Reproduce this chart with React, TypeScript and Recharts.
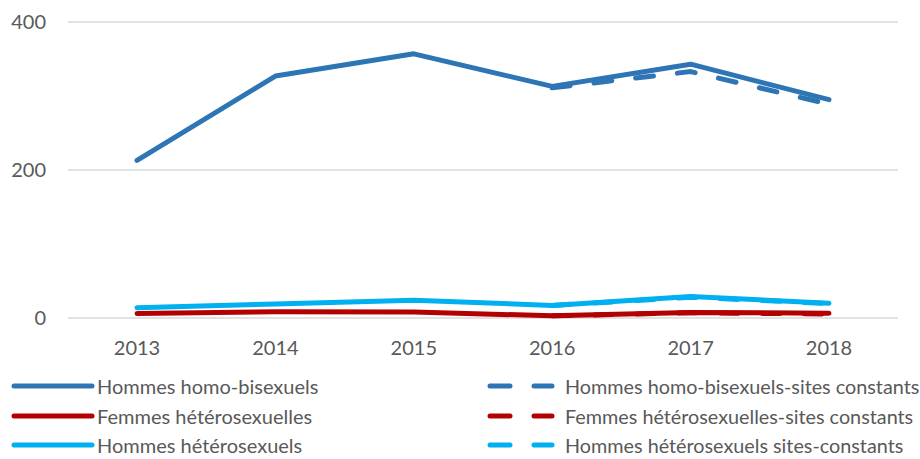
import React from 'react';
import { LineChart, Line, XAxis, YAxis, CartesianGrid } from 'recharts';

// --- Data ---
const years = ['2013', '2014', '2015', '2016', '2017', '2018'];
const hommesHomoBi = [213, 327, 357, 313, 343, 295];
const hommesHomoBiSites = [null, null, null, 311, 333, 289];
const femmesHetero = [6, 8.5, 8, 3, 7.5, 6.5];
const femmesHeteroSites = [null, null, null, 3, 7, 5.5];
const hommesHetero = [14, 19, 24, 17, 29, 20];
const hommesHeteroSites = [null, null, null, 17, 28, 19.5];
const yTicks = [0, 200, 400];

const BLUE = '#2E75B6';
const RED = '#B30000';
const CYAN = '#00B0F0';
const TEXT = '#595959';
const FONT = 'Lato, "Open Sans", sans-serif';
const DASH = '18 24';

const data = years.map((year, i) => ({
  year,
  homoBi: hommesHomoBi[i],
  homoBiSites: hommesHomoBiSites[i],
  femmes: femmesHetero[i],
  femmesSites: femmesHeteroSites[i],
  hommes: hommesHetero[i],
  hommesSites: hommesHeteroSites[i],
}));

const legendLeft = [
  { label: 'Hommes homo-bisexuels', color: BLUE },
  { label: 'Femmes hétérosexuelles', color: RED },
  { label: 'Hommes hétérosexuels', color: CYAN },
];
const legendRight = [
  { label: 'Hommes homo-bisexuels-sites constants', color: BLUE },
  { label: 'Femmes hétérosexuelles-sites constants', color: RED },
  { label: 'Hommes hétérosexuels sites-constants', color: CYAN },
];

// legend rows, a bit tighter than the original so the last row stays readable
function LegendBlock() {
  const rowTop = [376, 406, 435];
  const textStyle = { fontFamily: FONT, color: TEXT, whiteSpace: 'nowrap' as const, lineHeight: '20px' };
  return (
    <>
      {legendLeft.map((item, i) => (
        <div key={item.label} style={{ position: 'absolute', left: 10, top: rowTop[i], height: 20, display: 'flex', alignItems: 'center' }}>
          <svg width={86} height={10}>
            <line x1={4} y1={5} x2={82} y2={5} stroke={item.color} strokeWidth={5} strokeLinecap="round" />
          </svg>
          <span style={{ ...textStyle, fontSize: 20, marginLeft: 1 }}>{item.label}</span>
        </div>
      ))}
      {legendRight.map((item, i) => (
        <div key={item.label} style={{ position: 'absolute', left: 484, top: rowTop[i], height: 20, display: 'flex', alignItems: 'center' }}>
          <svg width={74} height={10}>
            <line x1={6} y1={5} x2={26} y2={5} stroke={item.color} strokeWidth={5} strokeLinecap="round" />
            <line x1={50} y1={5} x2={68} y2={5} stroke={item.color} strokeWidth={5} strokeLinecap="round" />
          </svg>
          <span style={{ ...textStyle, fontSize: 19.8, marginLeft: 7 }}>{item.label}</span>
        </div>
      ))}
    </>
  );
}

export default function App() {
  return (
    <div style={{ position: 'absolute', left: 0, top: 0, width: 920, height: 459, overflow: 'hidden', background: '#fff' }}>
      <LineChart width={920} height={370} data={data} margin={{ top: 22, right: 22, bottom: 12, left: 0 }}>
        <CartesianGrid vertical={false} stroke="#d9d9d9" strokeWidth={1.5} />
        <XAxis
          dataKey="year"
          axisLine={false}
          tickLine={false}
          tickSize={0}
          tickMargin={23}
          height={40}
          padding={{ left: 69, right: 69 }}
          tick={{ fontSize: 20, fill: TEXT, fontFamily: FONT }}
        />
        <YAxis
          domain={[0, 400]}
          ticks={yTicks}
          axisLine={false}
          tickLine={false}
          tickSize={0}
          tickMargin={22}
          width={68}
          tick={{ fontSize: 20, fill: TEXT, fontFamily: FONT }}
        />
        <Line dataKey="homoBi" stroke={BLUE} strokeWidth={5} dot={false} isAnimationActive={false} strokeLinecap="round" strokeLinejoin="round" />
        <Line dataKey="femmes" stroke={RED} strokeWidth={5} dot={false} isAnimationActive={false} strokeLinecap="round" strokeLinejoin="round" />
        <Line dataKey="hommes" stroke={CYAN} strokeWidth={5} dot={false} isAnimationActive={false} strokeLinecap="round" strokeLinejoin="round" />
        <Line dataKey="homoBiSites" stroke={BLUE} strokeWidth={5} strokeDasharray={DASH} dot={false} isAnimationActive={false} strokeLinecap="round" strokeLinejoin="round" />
        <Line dataKey="femmesSites" stroke={RED} strokeWidth={5} strokeDasharray={DASH} dot={false} isAnimationActive={false} strokeLinecap="round" strokeLinejoin="round" />
        <Line dataKey="hommesSites" stroke={CYAN} strokeWidth={5} strokeDasharray={DASH} dot={false} isAnimationActive={false} strokeLinecap="round" strokeLinejoin="round" />
      </LineChart>
      <LegendBlock />
    </div>
  );
}
